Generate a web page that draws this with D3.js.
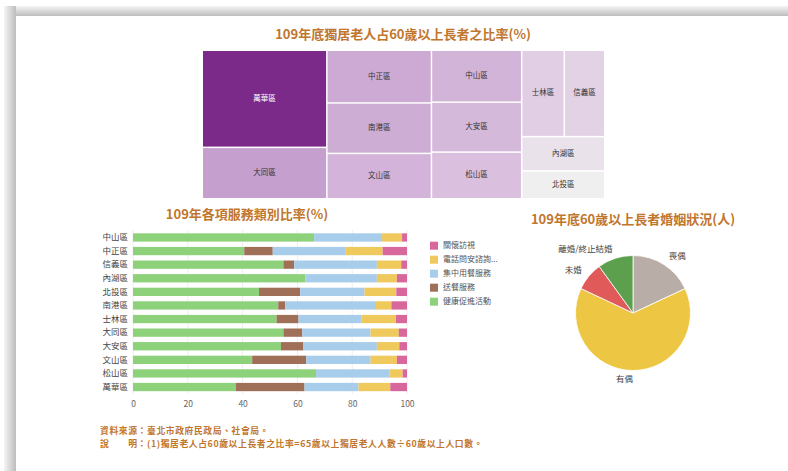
<!DOCTYPE html>
<html>
<head>
<meta charset="utf-8">
<script src="https://cdn.jsdelivr.net/npm/d3@7"></script>
<style>
  body { margin: 0; background: #fff; }
  svg { display: block; font-family: "Noto Sans CJK TC", "Noto Sans", sans-serif; }
</style>
</head>
<body>
<svg id="chart" width="788" height="471"></svg>
<script>
// treemap: 獨居老人占60歲以上長者之比率(%)
const tmDistricts = ["萬華區", "大同區", "中正區", "南港區", "文山區", "中山區", "大安區", "松山區", "士林區", "信義區", "內湖區", "北投區"];
const tmRatio = [2.04, 1.08, 0.93, 0.89, 0.80, 0.79, 0.76, 0.71, 0.62, 0.59, 0.48, 0.39];

// stacked bars: 各項服務類別比率(%)
const barDistricts = ["中山區", "中正區", "信義區", "內湖區", "北投區", "南港區", "士林區", "大同區", "大安區", "文山區", "松山區", "萬華區"];
const services = ["健康促進活動", "送餐服務", "集中用餐服務", "電話問安諮詢服務", "關懷訪視"];
const legendLabels = ["健康促進活動", "送餐服務", "集中用餐服務", "電話問安諮詢...", "關懷訪視"];
const health   = [66.1, 40.6, 54.9, 62.9, 46.0, 53.0, 52.4, 54.9, 54.0, 43.5, 66.8, 37.6];
const meals    = [0.0, 10.4, 3.9, 0.0, 15.0, 2.5, 8.0, 6.9, 8.2, 19.7, 0.0, 25.0];
const dining   = [24.8, 26.4, 30.2, 26.1, 23.5, 33.2, 22.9, 24.9, 26.8, 23.5, 26.9, 19.7];
const phone    = [7.3, 13.7, 8.9, 7.3, 11.6, 5.6, 12.7, 10.3, 8.2, 9.6, 4.7, 11.6];
const visits   = [1.8, 8.9, 2.1, 3.7, 3.9, 5.7, 4.0, 3.0, 2.8, 3.7, 1.6, 6.1];
const xTicks = [0, 20, 40, 60, 80, 100];

// pie: 60歲以上長者婚姻狀況(人)
const maritalStatus = ["喪偶", "有偶", "未婚", "離婚/終止結婚"];
const maritalCount = [131500, 466000, 58300, 72800];

const titleColor = "#c1762e";
const svg = d3.select("#chart");

// page shadow edge
const defs = svg.append("defs");
const gTop = defs.append("linearGradient").attr("id", "shTop").attr("x1", 0).attr("y1", 0).attr("x2", 0).attr("y2", 1);
gTop.append("stop").attr("offset", "0%").attr("stop-color", "#f4f4f4");
gTop.append("stop").attr("offset", "100%").attr("stop-color", "#bdbdbd");
const gLeft = defs.append("linearGradient").attr("id", "shLeft").attr("x1", 0).attr("y1", 0).attr("x2", 1).attr("y2", 0);
gLeft.append("stop").attr("offset", "0%").attr("stop-color", "#f4f4f4");
gLeft.append("stop").attr("offset", "100%").attr("stop-color", "#bdbdbd");
svg.append("rect").attr("x", 4).attr("y", 6).attr("width", 784).attr("height", 10).attr("fill", "url(#shTop)");
svg.append("rect").attr("x", 4).attr("y", 6).attr("width", 12).attr("height", 465).attr("fill", "url(#shLeft)");

// ---------- treemap ----------
svg.append("text")
  .attr("x", 403).attr("y", 35)
  .attr("text-anchor", "middle").attr("dominant-baseline", "middle")
  .attr("font-size", 13).attr("font-weight", "bold").attr("fill", titleColor)
  .text("109年底獨居老人占60歲以上長者之比率(%)");

const tmData = tmDistricts.map((name, i) => ({ name, value: tmRatio[i] }));
const root = d3.hierarchy({ children: tmData }).sum(d => d.value || 0).sort((a, b) => b.value - a.value);
d3.treemap().size([401, 147]).paddingInner(1.5).tile(d3.treemapSquarify)(root);

const tmColor = d3.scaleLinear()
  .domain([0.39, 0.62, 0.79, 1.08, 2.04])
  .range(["#efefef", "#e1cee4", "#d3b4d9", "#c59fcd", "#7b2a89"]);

const tm = svg.append("g").attr("transform", "translate(203,51)");
const cell = tm.selectAll("g").data(root.leaves()).join("g")
  .attr("transform", d => `translate(${d.x0},${d.y0})`);
cell.append("rect")
  .attr("width", d => d.x1 - d.x0)
  .attr("height", d => d.y1 - d.y0)
  .attr("fill", d => tmColor(d.data.value));
cell.append("text")
  .attr("x", d => (d.x1 - d.x0) / 2)
  .attr("y", d => (d.y1 - d.y0) / 2)
  .attr("text-anchor", "middle").attr("dominant-baseline", "middle")
  .attr("font-size", 7.5)
  .attr("fill", d => d.data.value === d3.max(tmRatio) ? "#fff" : "#333")
  .text(d => d.data.name);

// ---------- stacked bars ----------
svg.append("text")
  .attr("x", 247).attr("y", 215)
  .attr("text-anchor", "middle").attr("dominant-baseline", "middle")
  .attr("font-size", 13).attr("font-weight", "bold").attr("fill", titleColor)
  .text("109年各項服務類別比率(%)");

const seriesVals = [health, meals, dining, phone, visits];
const rows = barDistricts.map((d, i) => {
  const r = { district: d };
  services.forEach((s, k) => r[s] = seriesVals[k][i]);
  return r;
});
const stack = d3.stack().keys(services)(rows);
const svcColor = d3.scaleOrdinal()
  .domain(services)
  .range(["#8dd27a", "#a06f58", "#a8cdea", "#f0c95c", "#d8689c"]);

const x = d3.scaleLinear().domain([0, 100]).range([133, 407]);
const y = d3.scaleBand().domain(barDistricts).range([230.6, 393.9]).paddingInner(0.39).paddingOuter(0.2);

svg.append("g").selectAll("line").data(xTicks).join("line")
  .attr("x1", d => x(d)).attr("x2", d => x(d))
  .attr("y1", 230).attr("y2", 394)
  .attr("stroke", "#eeeeee").attr("stroke-width", 1);

svg.append("g").selectAll("g").data(stack).join("g")
  .attr("fill", d => svcColor(d.key))
  .selectAll("rect").data(d => d).join("rect")
  .attr("x", d => x(d[0]))
  .attr("y", d => y(d.data.district))
  .attr("width", d => x(d[1]) - x(d[0]))
  .attr("height", y.bandwidth());

const xAxis = svg.append("g").attr("transform", "translate(0,394)")
  .call(d3.axisBottom(x).tickValues(xTicks).tickSize(0).tickPadding(7));
xAxis.select(".domain").remove();
xAxis.selectAll("text").attr("font-size", 8.5).attr("fill", "#666").attr("font-family", "'Noto Sans CJK TC', sans-serif");

const yAxis = svg.append("g").attr("transform", "translate(133,0)")
  .call(d3.axisLeft(y).tickSize(0).tickPadding(5));
yAxis.select(".domain").remove();
yAxis.selectAll("text").attr("font-size", 8.5).attr("fill", "#444").attr("font-family", "'Noto Sans CJK TC', sans-serif");

// legend (reverse order)
const legendOrder = services.map((s, i) => ({ key: s, label: legendLabels[i] })).reverse();
const legend = svg.append("g").selectAll("g").data(legendOrder).join("g")
  .attr("transform", (d, i) => `translate(430,${245.7 + i * 14})`);
legend.append("rect").attr("x", 0).attr("y", -4).attr("width", 8).attr("height", 8)
  .attr("fill", d => svcColor(d.key));
legend.append("text").attr("x", 13).attr("y", 0)
  .attr("dominant-baseline", "middle")
  .attr("font-size", 8).attr("fill", "#555")
  .text(d => d.label);

// ---------- pie ----------
svg.append("text")
  .attr("x", 633).attr("y", 220)
  .attr("text-anchor", "middle").attr("dominant-baseline", "middle")
  .attr("font-size", 13).attr("font-weight", "bold").attr("fill", titleColor)
  .text("109年底60歲以上長者婚姻狀況(人)");

const pieColor = d3.scaleOrdinal().domain(maritalStatus)
  .range(["#b9ada8", "#edc744", "#e05a5a", "#5c9f4d"]);
const pieData = d3.pie().sort(null).value(d => d.v)(maritalStatus.map((s, i) => ({ s, v: maritalCount[i] })));
const radius = 57.5;
const arc = d3.arc().innerRadius(0).outerRadius(radius);
const pieG = svg.append("g").attr("transform", "translate(633,313)");
pieG.selectAll("path").data(pieData).join("path")
  .attr("d", arc)
  .attr("fill", d => pieColor(d.data.s))
  .attr("stroke", "#fff").attr("stroke-width", 0.8);

pieG.selectAll("text").data(pieData).join("text")
  .each(function (d) {
    const a = (d.startAngle + d.endAngle) / 2;
    const r = radius + 9;
    const sx = Math.sin(a);
    d3.select(this)
      .attr("x", r * sx)
      .attr("y", -r * Math.cos(a))
      .attr("text-anchor", sx > 0.1 ? "start" : "end");
  })
  .attr("dominant-baseline", "middle")
  .attr("font-size", 8.5).attr("fill", "#444")
  .text(d => d.data.s);

// ---------- notes ----------
const notes = [
  "資料來源：臺北市政府民政局、社會局。",
  "說　　明：(1)獨居老人占60歲以上長者之比率=65歲以上獨居老人人數÷60歲以上人口數。"
];
svg.append("g").selectAll("text").data(notes).join("text")
  .attr("x", 100).attr("y", (d, i) => 432 + i * 13)
  .attr("dominant-baseline", "middle")
  .attr("font-size", 8.8).attr("letter-spacing", 0.6)
  .attr("font-weight", "bold").attr("fill", titleColor)
  .text(d => d);
</script>
</body>
</html>
